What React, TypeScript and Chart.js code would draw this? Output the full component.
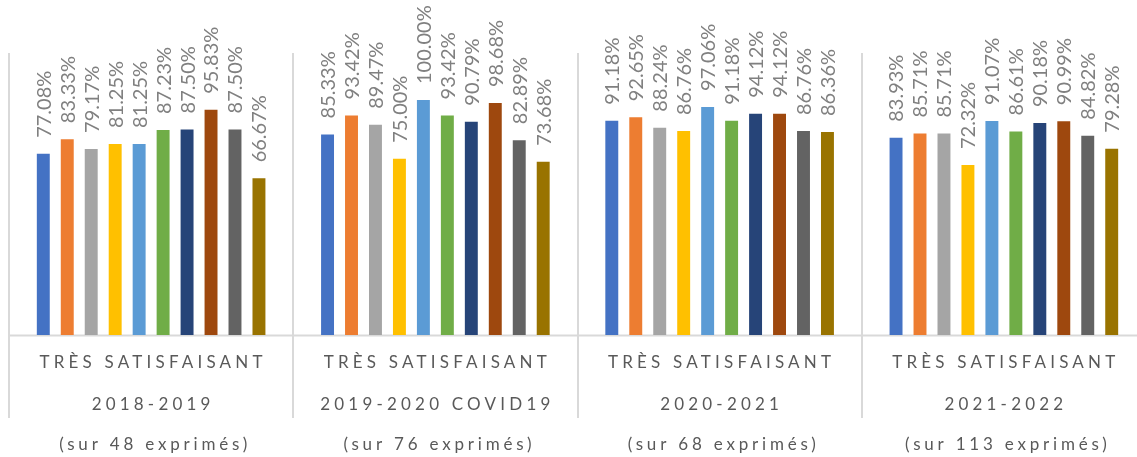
import React, { useEffect, useRef } from "react";
import { Chart, registerables } from "chart.js";

Chart.register(...registerables);

const categories = ["2018-2019", "2019-2020 COVID19", "2020-2021", "2021-2022"];
const topLabel = "TRÈS SATISFAISANT";
const bottomLabels = [
  "(sur 48 exprimés)",
  "(sur 76 exprimés)",
  "(sur 68 exprimés)",
  "(sur 113 exprimés)",
];

const series1 = [77.08, 85.33, 91.18, 83.93];
const series2 = [83.33, 93.42, 92.65, 85.71];
const series3 = [79.17, 89.47, 88.24, 85.71];
const series4 = [81.25, 75.0, 86.76, 72.32];
const series5 = [81.25, 100.0, 97.06, 91.07];
const series6 = [87.23, 93.42, 91.18, 86.61];
const series7 = [87.5, 90.79, 94.12, 90.18];
const series8 = [95.83, 98.68, 94.12, 90.99];
const series9 = [87.5, 82.89, 86.76, 84.82];
const series10 = [66.67, 73.68, 86.36, 79.28];

const seriesList = [
  series1, series2, series3, series4, series5,
  series6, series7, series8, series9, series10,
];
const colors = [
  "#4472C4", "#ED7D31", "#A5A5A5", "#FFC000", "#5B9BD5",
  "#70AD47", "#264478", "#9E480E", "#636363", "#997300",
];

const FONT = "Lato, 'Open Sans', sans-serif";

const decorPlugin = {
  id: "decor",
  beforeDatasetsDraw(chart: any) {
    const { ctx, chartArea, scales } = chart;
    const x = scales.x;
    const n = categories.length;
    const w = (x.right - x.left) / n;
    ctx.save();
    ctx.strokeStyle = "#D9D9D9";
    ctx.lineWidth = 2;
    ctx.beginPath();
    ctx.moveTo(chartArea.left, chartArea.bottom + 0.5);
    ctx.lineTo(chartArea.right, chartArea.bottom + 0.5);
    ctx.stroke();
    for (let i = 0; i <= n; i++) {
      const px = Math.round(x.left + i * w);
      ctx.beginPath();
      ctx.moveTo(px, chartArea.top);
      ctx.lineTo(px, chartArea.bottom + 83);
      ctx.stroke();
    }
    ctx.fillStyle = "#595959";
    ctx.textAlign = "center";
    ctx.textBaseline = "middle";
    ctx.font = `17px ${FONT}`;
    (ctx as any).letterSpacing = "4.2px";
    categories.forEach((c, i) => {
      const cx = x.getPixelForValue(i) + 2;
      ctx.fillText(topLabel, cx, chartArea.bottom + 28);
      ctx.fillText(c, cx, chartArea.bottom + 70);
    });
    (ctx as any).letterSpacing = "3.8px";
    categories.forEach((c, i) => {
      const cx = x.getPixelForValue(i) + 4;
      ctx.fillText(bottomLabels[i], cx, chartArea.bottom + 110);
    });
    (ctx as any).letterSpacing = "0px";
    ctx.restore();
  },
  afterDatasetsDraw(chart: any) {
    const { ctx } = chart;
    ctx.save();
    ctx.fillStyle = "#808080";
    ctx.font = `20px ${FONT}`;
    ctx.textAlign = "left";
    ctx.textBaseline = "middle";
    chart.data.datasets.forEach((ds: any, di: number) => {
      const meta = chart.getDatasetMeta(di);
      meta.data.forEach((el: any, i: number) => {
        const v = ds.data[i];
        ctx.save();
        ctx.translate(el.x + 1, el.y - 16);
        ctx.rotate(-Math.PI / 2);
        ctx.fillText(v.toFixed(2) + "%", 0, 0);
        ctx.restore();
      });
    });
    ctx.restore();
  },
};

export default function App() {
  const ref = useRef<HTMLCanvasElement>(null);
  useEffect(() => {
    document.body.style.margin = "0";
    const chart = new Chart(ref.current!, {
      type: "bar",
      data: {
        labels: categories,
        datasets: seriesList.map((s, i) => ({
          label: `Série ${i + 1}`,
          data: s,
          backgroundColor: colors[i],
          borderWidth: 0,
          categoryPercentage: 0.843,
          barPercentage: 0.54,
        })),
      },
      options: {
        responsive: false,
        animation: false,
        devicePixelRatio: 1,
        layout: { padding: { left: 9, top: 53, right: 1160 - 1146, bottom: 457 - 335 } },
        plugins: { legend: { display: false }, tooltip: { enabled: false } },
        scales: {
          x: { display: false, offset: true, grid: { display: false } },
          y: { display: false, min: 0, max: 120 },
        },
      },
      plugins: [decorPlugin],
    });
    return () => chart.destroy();
  }, []);
  return (
    <div style={{ position: "fixed", left: 0, top: 0, width: 1137, height: 457, overflow: "hidden", background: "#fff" }}>
      <canvas ref={ref} width={1160} height={457} style={{ display: "block" }} />
    </div>
  );
}
